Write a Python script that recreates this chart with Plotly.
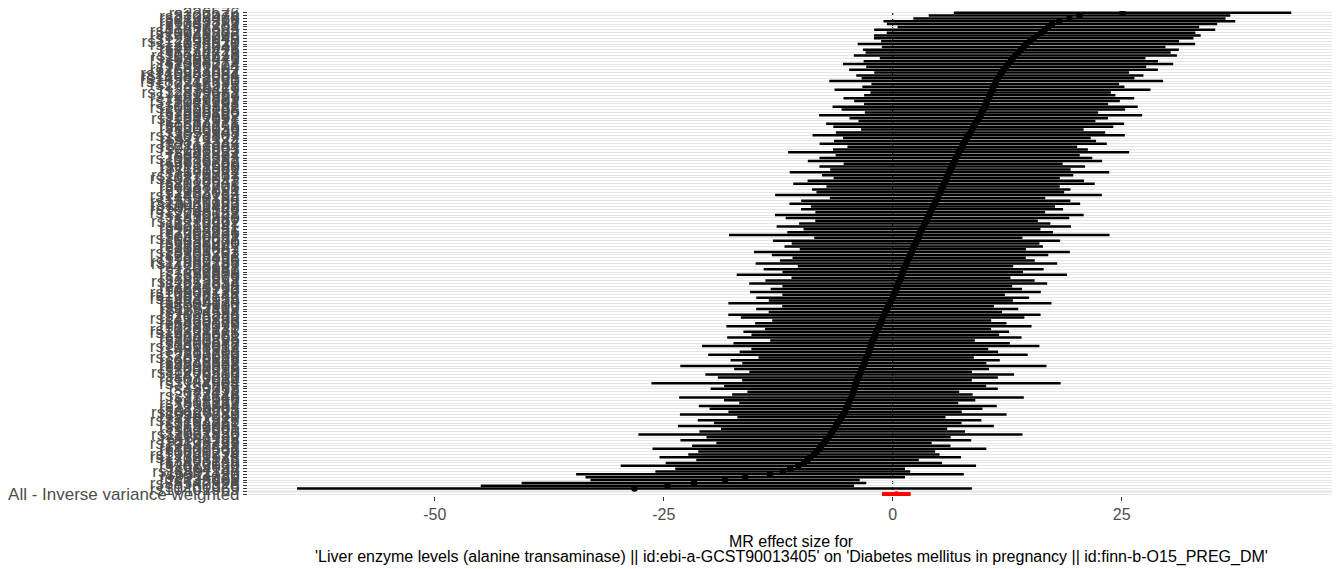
import plotly.graph_objects as go

# SNP effect estimates (sorted ascending, bottom to top) and standard errors
b = [-28.2, -24.6, -21.7, -18.3, -16.1, -13.4, -12.0, -11.2, -10.3, -9.7,
     -9.3, -9.0, -8.6, -8.3, -8.0, -7.8, -7.5, -7.3, -7.0, -6.8,
     -6.6, -6.4, -6.2, -6.0, -5.8, -5.6, -5.4, -5.2, -5.1, -4.9,
     -4.8, -4.7, -4.5, -4.4, -4.3, -4.2, -4.1, -4.0, -3.9, -3.8,
     -3.6, -3.5, -3.4, -3.2, -3.1, -3.0, -2.9, -2.7, -2.6, -2.5,
     -2.4, -2.3, -2.2, -2.0, -1.9, -1.8, -1.6, -1.5, -1.3, -1.2,
     -1.1, -0.9, -0.8, -0.6, -0.5, -0.3, -0.2, 0.0, 0.1, 0.3,
     0.4, 0.5, 0.6, 0.8, 0.9, 1.0, 1.1, 1.2, 1.4, 1.5,
     1.6, 1.8, 1.9, 2.1, 2.2, 2.3, 2.5, 2.6, 2.8, 2.9,
     3.0, 3.2, 3.4, 3.5, 3.7, 3.8, 4.0, 4.1, 4.3, 4.4,
     4.6, 4.7, 4.9, 5.0, 5.2, 5.3, 5.5, 5.6, 5.8, 5.9,
     6.0, 6.2, 6.3, 6.5, 6.6, 6.8, 6.9, 7.1, 7.2, 7.4,
     7.6, 7.7, 7.9, 8.1, 8.3, 8.5, 8.7, 8.8, 9.0, 9.2,
     9.4, 9.6, 9.7, 9.9, 10.1, 10.2, 10.3, 10.5, 10.6, 10.7,
     10.9, 11.0, 11.2, 11.3, 11.5, 11.7, 11.9, 12.1, 12.4, 12.6,
     12.9, 13.1, 13.4, 13.7, 14.0, 14.3, 14.6, 15.0, 15.4, 15.8,
     16.2, 16.6, 17.0, 17.4, 18.2, 19.3, 20.4, 25.1]

se = [18.8, 10.4, 9.6, 7.5, 8.9, 10.8, 7.1, 6.4, 9.9, 7.7,
      6.2, 8.4, 7.0, 6.6, 9.3, 7.2, 6.0, 8.1, 6.8, 10.7,
      7.4, 6.3, 8.8, 6.9, 7.9, 5.8, 9.1, 6.5, 7.6, 8.3,
      6.1, 7.0, 9.6, 6.7, 5.9, 8.0, 7.3, 11.4, 6.4, 7.8,
      8.6, 6.2, 7.1, 10.2, 6.8, 7.5, 6.0, 8.9, 7.2, 6.6,
      9.4, 7.7, 5.7, 8.2, 6.9, 7.4, 6.3, 8.5, 7.0, 6.1,
      7.9, 8.7, 6.5, 7.3, 5.9, 9.0, 6.8, 7.6, 6.2, 8.1,
      7.0, 6.4, 8.3, 7.5, 6.1, 9.2, 6.7, 7.8, 6.0, 8.4,
      7.1, 6.5, 7.7, 8.8, 6.3, 7.2, 6.9, 8.0, 5.8, 10.6,
      7.4, 6.6, 8.2, 7.0, 6.2, 7.9, 8.6, 6.4, 7.3, 6.8,
      8.1, 7.5, 6.0, 9.1, 6.9, 7.2, 6.5, 8.4, 7.7, 6.3,
      7.0, 8.9, 6.7, 7.4, 6.1, 8.2, 7.6, 6.8, 9.5, 7.1,
      6.4, 8.0, 7.3, 6.9, 8.7, 7.5, 6.2, 7.8, 8.3, 6.6,
      7.2, 9.0, 6.5, 7.9, 8.5, 6.8, 7.4, 8.1, 7.0, 6.7,
      8.8, 7.3, 6.9, 9.3, 7.6, 8.0, 7.1, 8.6, 7.8, 9.2,
      8.2, 7.4, 9.0, 8.5, 8.8, 7.9, 9.4, 8.3, 8.9, 9.1,
      8.6, 9.5, 8.4, 9.2, 9.8, 8.7, 8.4, 9.4]

snp = ["rs10401969", "rs1260326", "rs58542926", "rs738409", "rs2954029", "rs6511720", "rs11591147", "rs964184",
       "rs2075650", "rs4420638", "rs7903146", "rs17321515", "rs12740374", "rs6601299", "rs1800562", "rs2642442",
       "rs10195252", "rs1169288", "rs4841132", "rs11057830", "rs2131925", "rs629301", "rs1532085", "rs3764261",
       "rs13107325", "rs2287019", "rs9987289", "rs10128711", "rs2228603", "rs1229984", "rs1801282", "rs12916",
       "rs174546", "rs2972146", "rs7412", "rs429358", "rs6857", "rs3184504", "rs1042034", "rs676210",
       "rs2479409", "rs11206510", "rs2000999", "rs4299376", "rs3846662", "rs6029526", "rs12678919", "rs2293889",
       "rs13702", "rs4921914", "rs10468017", "rs1800588", "rs2070895", "rs3741298", "rs9686661", "rs12328675",
       "rs10761731", "rs1883025", "rs6450176", "rs4939883", "rs17145738", "rs2068888", "rs7134594", "rs1367117",
       "rs6065906", "rs2304130", "rs4846914", "rs12027135", "rs16996148", "rs10903129", "rs4660293", "rs7241918",
       "rs2652834", "rs11613352", "rs2925979", "rs1689800", "rs7679", "rs1800961", "rs4765127", "rs11869286",
       "rs12967135", "rs7255436", "rs2303361", "rs13238203", "rs2081687", "rs3136441", "rs1936800", "rs6882076",
       "rs10490632", "rs7350481", "rs2602836", "rs1084651", "rs4719841", "rs6818397", "rs11220462", "rs838880",
       "rs2290547", "rs12748152", "rs10808546", "rs9411489", "rs11065987", "rs13326165", "rs4530754", "rs17404153",
       "rs2923084", "rs1047891", "rs7188708", "rs8017377", "rs2710642", "rs10832027", "rs11776767", "rs7570971",
       "rs181362", "rs1121980", "rs9939609", "rs2815752", "rs10938397", "rs543874", "rs987237", "rs7138803",
       "rs10767664", "rs2112347", "rs3817334", "rs4771122", "rs13078807", "rs1555543", "rs206936", "rs9568856",
       "rs1514175", "rs2287921", "rs11847697", "rs2890652", "rs7899106", "rs1928295", "rs10150332", "rs2075291",
       "rs12049202", "rs887829", "rs72613567", "rs112875651", "rs2236479", "rs5117", "rs17216525", "rs188247550",
       "rs145678901", "rs116843064", "rs140584594", "rs75627662", "rs17321504", "rs2066714", "rs1408579", "rs10995441",
       "rs11727676", "rs6544713", "rs2278426", "rs4775041", "rs17035630", "rs112294610", "rs12186049", "rs7946766",
       "rs10929302", "rs41279633", "rs2497304", "rs1047781", "rs6743376", "rs2738466", "rs8107974", "rs226576"]

ivw_label = ["All - Inverse variance weighted"]
ivw_b = [0.4]
ivw_se = [0.8]
blank_label = " "

x_ticks = [-50, -25, 0, 25]
minor_grid = [-62.5, -50, -37.5, -25, -12.5, 0, 12.5, 25, 37.5]

title_line1 = "MR effect size for"
title_line2 = ("'Liver enzyme levels (alanine transaminase) || id:ebi-a-GCST90013405' on "
               "'Diabetes mellitus in pregnancy || id:finn-b-O15_PREG_DM'")

categories = ivw_label + [blank_label] + snp

fig = go.Figure()

fig.add_trace(go.Scatter(
    x=b, y=snp, mode="markers",
    marker=dict(color="black", size=6.5),
    error_x=dict(type="data", array=[1.96 * s for s in se], width=0,
                 thickness=2.5, color="black"),
    hoverinfo="x+y", showlegend=False,
))
fig.add_trace(go.Scatter(
    x=ivw_b, y=ivw_label, mode="markers",
    marker=dict(color="red", size=6),
    error_x=dict(type="data", array=[1.96 * s for s in ivw_se], width=0,
                 thickness=4.5, color="red"),
    showlegend=False,
))

shapes = []
for g in minor_grid:
    shapes.append(dict(type="line", xref="x", yref="paper", x0=g, x1=g, y0=0, y1=1,
                       line=dict(color="white", width=2), layer="between"))
shapes.append(dict(type="line", xref="x", yref="paper", x0=0, x1=0, y0=0, y1=1,
                   line=dict(color="black", width=1, dash="dot"), layer="between"))
shapes.append(dict(type="line", xref="paper", yref="y", x0=0, x1=1, y0=blank_label, y1=blank_label,
                   line=dict(color="#BEBEBE", width=1.5), layer="between"))

# page body adds an 8px offset, so the figure is sized 8px smaller each way
fig.update_layout(
    width=1332, height=561,
    margin=dict(l=240, r=5, t=3, b=73, autoexpand=False),
    paper_bgcolor="white", plot_bgcolor="white",
    font=dict(family="Liberation Sans, Arial, sans-serif", color="#4D4D4D", size=17),
    shapes=shapes,
    xaxis=dict(
        range=[-70.4, 48.3], tickmode="array", tickvals=x_ticks,
        ticktext=[str(t) for t in x_ticks], automargin=False,
        showgrid=False, zeroline=False, showline=False,
        ticks="outside", ticklen=4, tickcolor="#333333",
        tickfont=dict(size=16, color="#4D4D4D"),
    ),
    yaxis=dict(
        type="category", categoryorder="array", categoryarray=categories,
        tickmode="array", tickvals=categories, ticktext=categories,
        range=[-0.6, len(categories) - 1 + 0.6], automargin=False,
        showgrid=True, gridcolor="#E6E6E6", gridwidth=1,
        zeroline=False, showline=False,
        ticks="outside", ticklen=4, tickcolor="#333333",
        tickfont=dict(size=17, color="#4D4D4D"),
    ),
    annotations=[
        dict(text=title_line1, xref="paper", yref="paper", x=0.5, y=-0.0928,
             xanchor="center", yanchor="middle", showarrow=False,
             font=dict(size=16, color="black")),
        dict(text=title_line2, xref="paper", yref="paper", x=0.5, y=-0.1258,
             xanchor="center", yanchor="middle", showarrow=False,
             font=dict(size=16, color="black")),
    ],
)

fig.write_html("out.html")
